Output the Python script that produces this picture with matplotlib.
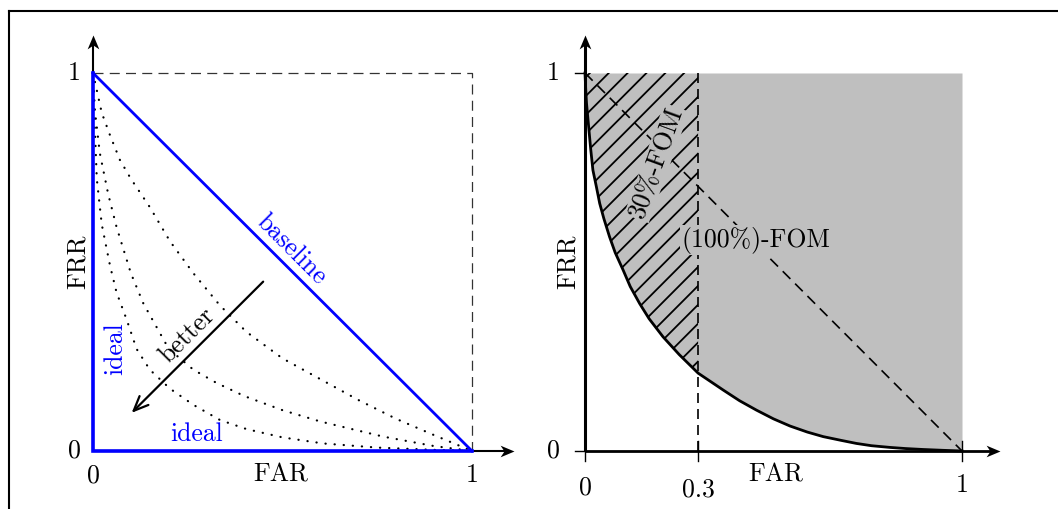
"""FAR/FRR trade-off sketch: ideal/baseline curves (left) and FOM areas (right)."""

import matplotlib
matplotlib.use("Agg")
import matplotlib.pyplot as plt
from matplotlib.lines import Line2D
from matplotlib.patches import Polygon
from matplotlib.path import Path
import numpy as np

W, H = 1058, 509

# left panel: three example error-tradeoff curves
outer_far = [0, 0.023, 0.045, 0.071, 0.1, 0.15, 0.203, 0.265, 0.335, 0.405, 0.5, 0.6, 0.7, 0.8, 0.9, 1.0]
outer_frr = [1, 0.895, 0.835, 0.77, 0.72, 0.645, 0.555, 0.47, 0.385, 0.315, 0.245, 0.19, 0.135, 0.085, 0.042, 0]
middle_far = [0, 0.005, 0.018, 0.04, 0.062, 0.1, 0.133, 0.2, 0.265, 0.326, 0.4, 0.5, 0.6, 0.766, 0.9, 1.0]
middle_frr = [1, 0.9, 0.788, 0.68, 0.593, 0.47, 0.39, 0.27, 0.215, 0.18, 0.145, 0.108, 0.078, 0.038, 0.013, 0]
inner_far = [0, 0.005, 0.01, 0.023, 0.045, 0.062, 0.089, 0.115, 0.15, 0.203, 0.265, 0.335, 0.405, 0.5, 0.607, 0.75, 0.9, 1.0]
inner_frr = [1, 0.85, 0.72, 0.6, 0.49, 0.42, 0.347, 0.27, 0.215, 0.165, 0.122, 0.082, 0.058, 0.036, 0.02, 0.009, 0.003, 0]

# right panel: one DET-like curve
det_far = [0, 0.002, 0.004, 0.008, 0.015, 0.021, 0.03, 0.039, 0.05, 0.065, 0.08, 0.101,
           0.12, 0.145, 0.17, 0.207, 0.25, 0.3, 0.367, 0.41, 0.455, 0.5, 0.544, 0.59,
           0.632, 0.68, 0.72, 0.76, 0.809, 0.85, 0.897, 0.95, 1.0]
det_frr = [1, 0.955, 0.92, 0.876, 0.8, 0.743, 0.70, 0.655, 0.615, 0.567, 0.525, 0.479,
           0.435, 0.39, 0.35, 0.302, 0.255, 0.206, 0.161, 0.133, 0.108, 0.085, 0.066, 0.05,
           0.038, 0.028, 0.02, 0.014, 0.0095, 0.0065, 0.004, 0.0018, 0]
fom_limit = 0.3

left_ticks = ["0", "1"]
right_xticks = [0, 0.3, 1]
right_xticklabels = ["0", "0.3", "1"]

GRAY = "#bfbfbf"
BLUE = "#0000ff"
FONT = dict(fontfamily="cmr10", fontsize=18.5)

# stealth-like arrow head, tip at the origin, pointing right
HEAD = np.array([[0, 0], [-1, 0.42], [-0.72, 0], [-1, -0.42], [0, 0]])


def place_axes(fig, ox, oy, sx, sy, xlim=(-0.2, 1.2), ylim=(-0.15, 1.15)):
    # origin (0,0) lands at pixel (ox, oy) measured from top-left
    left = (ox + xlim[0] * sx) / W
    width = (xlim[1] - xlim[0]) * sx / W
    bottom = (H - oy + ylim[0] * sy) / H
    height = (ylim[1] - ylim[0]) * sy / H
    ax = fig.add_axes([left, bottom, width, height])
    ax.set_xlim(xlim)
    ax.set_ylim(ylim)
    ax.axis("off")
    return ax


def axis_arrow(ax, end, up, lw=1.5):
    x, y = end
    if up:
        ax.plot([0, x], [0, y - 0.02], color="black", lw=lw, solid_capstyle="butt")
        verts = HEAD[:, ::-1]
    else:
        ax.plot([0, x - 0.02], [0, y], color="black", lw=lw, solid_capstyle="butt")
        verts = HEAD
    ax.plot([x], [y], marker=Path(verts), markersize=20, color="black",
            markeredgewidth=0, clip_on=False)


fig = plt.figure(figsize=(W / 100, H / 100), dpi=100)

# frame (only left and top edges are visible in the crop)
fig.add_artist(Line2D([9 / W, 9 / W], [0, 1 - 11 / H], color="black", lw=1.5,
                      transform=fig.transFigure))
fig.add_artist(Line2D([9 / W, 1], [1 - 11 / H, 1 - 11 / H], color="black", lw=1.5,
                      transform=fig.transFigure))

# ---------------- left panel ----------------
ax1 = place_axes(fig, 93, 451, 379, 378)
axis_arrow(ax1, (0, 1.1), up=True)
axis_arrow(ax1, (1.11, 0), up=False)
ax1.plot([0, 1, 1], [1, 1, 0], color="#333333", lw=0.9, dashes=(8, 5))

for far, frr in [(outer_far, outer_frr), (middle_far, middle_frr), (inner_far, inner_frr)]:
    ax1.plot(far, frr, color="black", lw=1.6, linestyle=(0, (0.1, 4.0)),
             dash_capstyle="round")

ax1.plot([0, 1], [1, 0], color=BLUE, lw=2.0)
ax1.plot([0, 0, 1], [1, 0, 0], color=BLUE, lw=2.6, solid_joinstyle="miter")

ax1.annotate("", xy=(0.102, 0.101), xytext=(0.449, 0.448),
             arrowprops=dict(arrowstyle="->,head_length=0.7,head_width=0.3",
                             mutation_scale=15, lw=1.6, color="black",
                             shrinkA=0, shrinkB=0))
ax1.text(0.25, 0.307, "better", rotation=45, ha="center", va="center",
         rotation_mode="anchor", **FONT)
ax1.text(0.524, 0.532, "baseline", rotation=-45, ha="center", va="center",
         rotation_mode="anchor", color=BLUE, **FONT)
ax1.text(0.058, 0.27, "ideal", rotation=90, ha="center", va="center",
         color=BLUE, **FONT)
ax1.text(0.273, 0.045, "ideal", ha="center", va="center", color=BLUE, **FONT)

ax1.text(-0.05, 0, left_ticks[0], ha="center", va="center", **FONT)
ax1.text(-0.05, 1, left_ticks[1], ha="center", va="center", **FONT)
ax1.text(0, -0.066, left_ticks[0], ha="center", va="center", **FONT)
ax1.text(1, -0.063, left_ticks[1], ha="center", va="center", **FONT)
ax1.text(0.496, -0.063, "FAR", ha="center", va="center", **FONT)
ax1.text(-0.04, 0.5, "FRR", rotation=90, ha="center", va="center", **FONT)

# ---------------- right panel ----------------
ax2 = place_axes(fig, 585, 451, 377, 378)
far = np.array(det_far)
frr = np.array(det_frr)
ax2.fill_between(far, frr, 1, color=GRAY, lw=0)

# hatch of the partial (30%) area, drawn as clipped diagonal lines
part = far <= fom_limit
region = np.vstack([np.column_stack([far[part], frr[part]]),
                    [[fom_limit, 1], [0, 1]]])
clip = Polygon(region, closed=True, facecolor="none", edgecolor="none")
ax2.add_patch(clip)
for c in np.arange(0.987, -0.15, -0.05):
    hl, = ax2.plot([-0.1, 0.4], [-0.1 + c, 0.4 + c], color="black", lw=1.3)
    hl.set_clip_path(clip)

ax2.plot([fom_limit, fom_limit], [0, 1], color="black", lw=1.2, dashes=(6, 3.6))
ax2.plot([0, 1], [1, 0], color="black", lw=1.2, dashes=(6.5, 4))
ax2.plot(far, frr, color="black", lw=2.0)

axis_arrow(ax2, (0, 1.1), up=True, lw=2.2)
axis_arrow(ax2, (1.1, 0), up=False, lw=2.0)

for x in right_xticks:
    ax2.plot([x, x], [-0.027, 0.027], color="black", lw=1.0)
for y in [0, 1]:
    ax2.plot([-0.027, 0], [y, y], color="black", lw=1.0)

ax2.text(0.19, 0.762, "30%-FOM", rotation=70, ha="center", va="center",
         rotation_mode="anchor",
         bbox=dict(facecolor=GRAY, edgecolor="none", pad=1), **FONT)
ax2.text(0.454, 0.558, "(100%)-FOM", ha="center", va="center",
         bbox=dict(facecolor=GRAY, edgecolor="none", pad=1), **FONT)

ax2.text(-0.085, 0, "0", ha="center", va="center", **FONT)
ax2.text(-0.085, 1, "1", ha="center", va="center", **FONT)
xlab_y = [-0.098, -0.103, -0.09]
for x, lab, ly in zip(right_xticks, right_xticklabels, xlab_y):
    ax2.text(x, ly, lab, ha="center", va="center", **FONT)
ax2.text(0.507, -0.063, "FAR", ha="center", va="center", **FONT)
ax2.text(-0.045, 0.5, "FRR", rotation=90, ha="center", va="center", **FONT)

fig.savefig("out.png", dpi=100)
plt.close(fig)
